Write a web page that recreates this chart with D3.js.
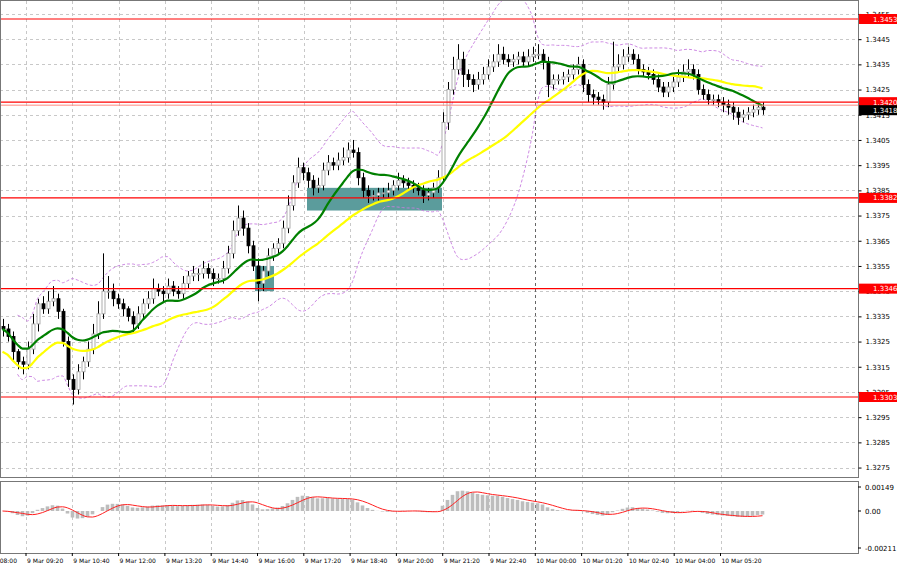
<!DOCTYPE html>
<html><head><meta charset="utf-8">
<script src="https://cdn.jsdelivr.net/npm/d3@7"></script>
<style>
body{margin:0;background:#fff;}
text{font-family:"DejaVu Sans",sans-serif;font-size:7px;fill:#000;}
text.tl{font-size:6px;}
</style></head>
<body><div id="chart"></div>
<script>
var svgWidth = 900, svgHeight = 569;

// closes, in pips above 1.3300
var closes = [30,27,21,17,16,22,32,40,38,41,42,37,25,10,6,13,17,22,28,36,
  45,45,42,40,38,35,32,36,40,42,46,45,44,47,45,44,48,51,52,52,
  54,52,50,50,54,60,69,74,70,63,55,48,53,59,62,64,70,79,88,94,
  92,89,86,87,93,96,95,97,98,101,100,90,85,83,83,84,84,85,87,89,
  88,87,86,85,83,84,86,90,112,125,133,137,131,129,127,129,131,134,136,139,
  137,136,137,138,136,138,139,139,136,127,129,129,130,131,133,135,127,123,122,121,
  120,127,134,135,138,139,137,133,132,131,129,126,124,126,128,130,132,133,131,125,
  123,121,121,120,119,118,116,114,115,116,117,118,117];
// extra wick above / below candle body, pips
var wickUp = [3,2,2,1,2,3,4,2,3,4,5,2,1,2,2,3,2,3,4,5,
  15,6,3,2,2,1,2,3,2,3,4,2,2,3,2,2,3,2,3,2,
  3,2,2,2,3,3,4,5,3,2,2,3,2,3,2,2,3,4,3,4,
  2,2,2,3,3,3,2,3,4,3,4,2,2,2,2,2,2,3,2,3,
  2,2,2,2,2,2,2,3,4,3,5,6,3,2,2,3,3,3,3,4,
  3,2,2,2,2,3,3,4,2,2,2,2,2,2,2,3,2,2,2,2,
  2,3,10,4,3,3,2,2,2,2,2,2,2,2,2,3,3,4,2,2,
  2,2,2,2,2,2,2,2,2,2,2,2,2];
var wickDn = [3,2,4,3,4,2,2,3,2,2,2,3,2,3,6,2,3,2,2,2,
  2,3,3,2,3,2,4,2,2,2,2,2,3,2,2,2,2,2,2,3,
  2,2,3,2,2,2,2,2,3,3,2,7,3,2,2,2,2,2,2,2,
  3,3,3,2,2,2,2,2,2,2,2,3,3,3,2,2,2,2,2,2,
  2,2,2,2,3,2,2,2,2,3,2,2,5,3,3,2,2,2,2,2,
  2,2,2,2,2,2,2,2,3,5,2,2,2,2,2,2,3,3,3,2,
  3,2,2,2,2,2,2,2,2,2,2,2,2,2,2,2,2,2,2,2,
  2,2,2,2,3,3,3,3,2,2,2,2,2];

var levels = [1.3453, 1.3420, 1.3382, 1.3346, 1.3303];
var priceTicks = [1.3455,1.3445,1.3435,1.3425,1.3415,1.3405,1.3395,1.3385,1.3375,1.3365,1.3355,1.3345,1.3335,1.3325,1.3315,1.3305,1.3295,1.3285,1.3275];
var timeLabels = ["9 Mar 08:00","9 Mar 09:20","9 Mar 10:40","9 Mar 12:00","9 Mar 13:20","9 Mar 14:40","9 Mar 16:00","9 Mar 17:20","9 Mar 18:40","9 Mar 20:00","9 Mar 21:20","9 Mar 22:40","10 Mar 00:00","10 Mar 01:20","10 Mar 02:40","10 Mar 04:00","10 Mar 05:20"];
// signal zones [fromBar, toBar, lowPrice, highPrice]
var zoneA = [50.5, 54.3, 1.3345, 1.3355];
var zoneB = [60.9, 87.9, 1.3377, 1.3386];
var lastPrice = 1.3418;

var bars = closes.map(function(c, i) {
  var close = 1.33 + c / 10000;
  var open = 1.33 + (i > 0 ? closes[i - 1] : c + 1) / 10000;
  return {i: i, o: open, c: close,
    h: Math.max(open, close) + wickUp[i] / 10000,
    l: Math.min(open, close) - wickDn[i] / 10000};
});

var plotW = 858, mainTop = 1, mainBot = 477, subTop = 481, subBot = 553;

var x = d3.scaleLinear().domain([0, 1]).range([2.5, 7.5]);
var y = d3.scaleLinear().domain([1.3453, 1.3303]).range([19, 397]);
var xt = d3.scaleLinear().domain([0, 80]).range([-20.3, 26]);

var svg = d3.select("#chart").append("svg")
  .attr("width", svgWidth).attr("height", svgHeight);

svg.append("defs").append("clipPath").attr("id", "mc")
  .append("rect").attr("x", 0).attr("y", mainTop).attr("width", plotW).attr("height", mainBot - mainTop);

// grid
var grid = svg.append("g");
priceTicks.forEach(function(p) {
  grid.append("line").attr("x1", 0).attr("x2", plotW).attr("y1", Math.round(y(p)) + .5).attr("y2", Math.round(y(p)) + .5)
    .attr("stroke", "#c8c8c8").attr("stroke-dasharray", "3,3");
});
timeLabels.forEach(function(t, k) {
  var tx = Math.round(xt(80 * k)) + .5;
  if (tx < 0) return;
  var day = t === "10 Mar 00:00";
  [[mainTop, mainBot], [subTop, subBot]].forEach(function(r) {
    grid.append("line").attr("x1", tx).attr("x2", tx).attr("y1", r[0]).attr("y2", r[1])
      .attr("stroke", day ? "#666" : "#c8c8c8").attr("stroke-dasharray", "3,3");
  });
});

var main = svg.append("g").attr("clip-path", "url(#mc)");

// zones
[zoneA, zoneB].forEach(function(z) {
  main.append("rect").attr("x", x(z[0])).attr("width", x(z[1]) - x(z[0]))
    .attr("y", y(z[3])).attr("height", y(z[2]) - y(z[3])).attr("fill", "#5b9c9c");
});

// bollinger + moving averages
function sma(arr, n, i) {
  var s = arr.slice(Math.max(0, i - n + 1), i + 1);
  return d3.mean(s);
}
var cl = bars.map(function(b) { return b.c; });
var bb = bars.map(function(b, i) {
  var s = cl.slice(Math.max(0, i - 19), i + 1), m = d3.mean(s), sd = d3.deviation(s) || 0;
  return {i: i, m: m, u: m + 2 * sd, d: m - 2 * sd};
});
var line = d3.line().curve(d3.curveMonotoneX);
["u", "d"].forEach(function(k) {
  main.append("path").attr("d", line(bb.slice(3).map(function(b) { return [x(b.i), y(b[k])]; })))
    .attr("fill", "none").attr("stroke", "#c77de0").attr("stroke-width", 0.9).attr("stroke-dasharray", "3,2");
});

// candles
var cg = main.append("g");
bars.forEach(function(b) {
  var up = b.c >= b.o, cx = Math.round(x(b.i)) + .5;
  cg.append("line").attr("x1", cx).attr("x2", cx).attr("y1", y(b.h)).attr("y2", y(b.l))
    .attr("stroke", "#000").attr("stroke-width", 1);
  var top = y(Math.max(b.o, b.c)), bot = y(Math.min(b.o, b.c));
  cg.append("rect").attr("x", cx - 1.5).attr("width", 3).attr("y", top).attr("height", Math.max(1, bot - top))
    .attr("fill", up ? "#fff" : "#000").attr("stroke", up ? "#9a9a9a" : "#000").attr("stroke-width", 0.8);
});

main.append("path").attr("d", line(bars.map(function(b, i) { return [x(i), y(sma(cl, 30, i) - (i < 30 ? (30 - i) * 0.00003 : 0))]; })))
  .attr("fill", "none").attr("stroke", "#ffff00").attr("stroke-width", 2.2);
main.append("path").attr("d", line(bars.map(function(b, i) { return [x(i), y(sma(cl, 14, i))]; })))
  .attr("fill", "none").attr("stroke", "#008000").attr("stroke-width", 2.2);

// levels
levels.forEach(function(p) {
  main.append("line").attr("x1", 0).attr("x2", plotW).attr("y1", y(p)).attr("y2", y(p))
    .attr("stroke", "#ff0000").attr("stroke-width", 1.2);
});
main.append("line").attr("x1", 0).attr("x2", plotW).attr("y1", y(1.3420) + 3).attr("y2", y(1.3420) + 3)
  .attr("stroke", "#ff8a80").attr("stroke-width", 1);

// frames
svg.append("rect").attr("x", 0.5).attr("y", 0.5).attr("width", plotW).attr("height", mainBot)
  .attr("fill", "none").attr("stroke", "#777");
svg.append("rect").attr("x", 0.5).attr("y", subTop + .5).attr("width", plotW).attr("height", subBot - subTop)
  .attr("fill", "none").attr("stroke", "#777");

// right price axis
var ax = svg.append("g").attr("transform", "translate(" + (plotW + 0.5) + ",0)");
ax.call(d3.axisRight(y).tickValues(priceTicks).tickFormat(d3.format(".4f")).tickSize(3))
  .call(function(g) { g.select(".domain").remove(); g.selectAll("text").attr("x", 7); });
levels.concat([lastPrice]).forEach(function(p) {
  var g = svg.append("g").attr("transform", "translate(" + (plotW + 1) + "," + (p === lastPrice ? y(p) + 3 : y(p)) + ")");
  g.append("rect").attr("x", 0).attr("y", -5).attr("width", 38).attr("height", 10)
    .attr("fill", p === lastPrice ? "#000" : "#ff0000");
  g.append("text").attr("x", 14).attr("y", 2.5).style("fill", "#fff").text(d3.format(".4f")(p));
});

// MACD
var ema = function(n) {
  var k = 2 / (n + 1), v = cl[0];
  return cl.map(function(c) { v = c * k + v * (1 - k); return v; });
};
var e12 = ema(7), e26 = ema(15);
var macd = cl.map(function(c, i) { return e12[i] - e26[i]; });
var sig = macd.map(function(m, i) { return sma(macd, 5, i); });
var ym = d3.scaleLinear().domain([0, 0.00149]).range([511, 487]);
var sub = svg.append("g");
macd.forEach(function(m, i) {
  sub.append("rect").attr("x", x(i) - 1.8).attr("width", 3.6)
    .attr("y", Math.min(ym(m), ym(0))).attr("height", Math.abs(ym(m) - ym(0)))
    .attr("fill", "#bdbdbd");
});
sub.append("path").attr("d", line(sig.map(function(s, i) { return [x(i), ym(s)]; })))
  .attr("fill", "none").attr("stroke", "#ff2020").attr("stroke-width", 1);
[[0.00149, "0.00149"], [0, "0.00"], [-0.00211, "-0.00211"]].forEach(function(t) {
  var ty = t[0] === -0.00211 ? 548 : ym(t[0]);
  svg.append("line").attr("x1", plotW).attr("x2", plotW + 3).attr("y1", ty).attr("y2", ty).attr("stroke", "#000");
  svg.append("text").attr("x", plotW + 7).attr("y", ty + 2.5).text(t[1]);
});

// time axis
timeLabels.forEach(function(t, k) {
  var tx = xt(80 * k);
  svg.append("line").attr("x1", tx).attr("x2", tx).attr("y1", subBot).attr("y2", subBot + 3).attr("stroke", "#000");
  svg.append("text").attr("class", "tl").attr("x", tx + 1).attr("y", 563).text(t);
});
</script></body></html>
